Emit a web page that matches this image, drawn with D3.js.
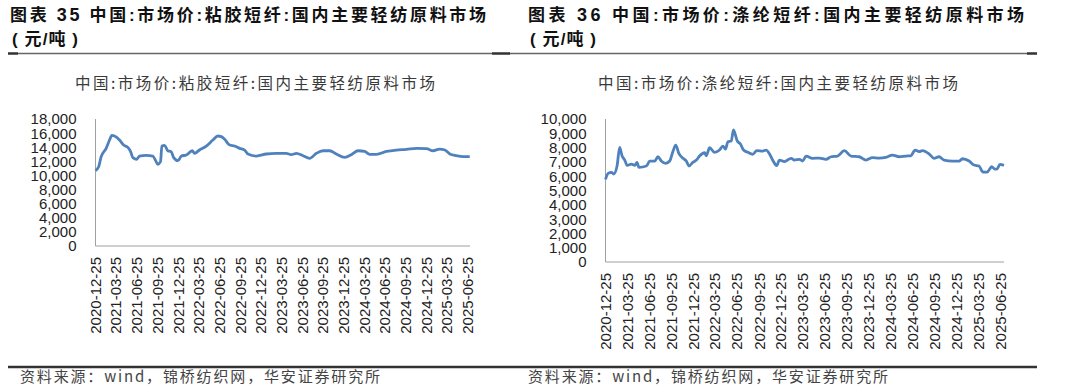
<!DOCTYPE html>
<html>
<head>
	<meta charset="utf-8">
	<title>粘胶短纤 / 涤纶短纤</title>
	<script src="https://cdn.jsdelivr.net/npm/d3@7"></script>
	<style>
		*{ padding: 0; margin: 0; }
		body{ background: #fff; }
		svg{ display: block; }
		.title{ font-family: "Liberation Sans", "Noto Sans CJK SC", sans-serif; font-weight: bold; font-size: 17px; fill: #111; }
		.sub{ font-family: "Noto Sans CJK SC", sans-serif; font-size: 15.5px; fill: #3a3a3a; }
		.src{ font-family: "Noto Sans CJK SC", sans-serif; font-size: 15px; fill: #444; }
		.tick{ font-family: "Liberation Sans", Arial, sans-serif; font-size: 15px; fill: #222; }
		.axis{ stroke: #a0a0a0; stroke-width: 1; }
		.line{ fill: none; stroke: #4f81bd; stroke-width: 2.8; stroke-linejoin: round; }
	</style>
</head>
<body>
	<svg width="1080" height="387"></svg>
	<script type="text/javascript">
		var parse = d3.timeParse("%Y-%m-%d");

		// x轴标签（季度）
		var xLabels = ["2020-12-25","2021-03-25","2021-06-25","2021-09-25","2021-12-25","2022-03-25",
			"2022-06-25","2022-09-25","2022-12-25","2023-03-25","2023-06-25","2023-09-25","2023-12-25",
			"2024-03-25","2024-06-25","2024-09-25","2024-12-25","2025-03-25","2025-06-25"];

		// 粘胶短纤 元/吨
		var vsfDates = ["2020-12-25","2021-01-08","2021-01-19","2021-02-10","2021-02-25","2021-03-07","2021-03-19",
			"2021-04-10","2021-04-28","2021-05-17","2021-05-29","2021-06-08","2021-06-25","2021-07-07","2021-08-06",
			"2021-09-04","2021-09-15","2021-09-26","2021-10-08","2021-10-14","2021-10-26","2021-11-09","2021-11-24",
			"2021-12-05","2021-12-24","2022-01-08","2022-01-30","2022-02-25","2022-03-07","2022-03-29","2022-04-28",
			"2022-05-27","2022-06-18","2022-07-03","2022-07-18","2022-08-09","2022-08-31","2022-09-22","2022-10-14",
			"2022-10-29","2022-12-05","2023-01-18","2023-03-03","2023-04-16","2023-05-08","2023-05-31","2023-06-29",
			"2023-07-28","2023-08-27","2023-09-25","2023-10-25","2023-11-23","2023-12-30","2024-01-28","2024-02-27",
			"2024-03-27","2024-04-18","2024-05-18","2024-07-01","2024-08-14","2024-09-27","2024-11-11","2024-12-25",
			"2025-01-23","2025-02-21","2025-03-16","2025-04-07","2025-05-06","2025-06-04","2025-07-04"];
		var vsfValues = [10700,11240,12660,13840,15020,15680,15590,
			15020,14310,13980,13370,12520,12290,12750,12850,
			12750,12190,11580,11950,14170,14270,13510,13370,
			12520,12090,12750,12900,13500,13140,13600,14170,
			15020,15590,15500,15120,14310,14170,13840,13600,
			13040,12750,13040,13140,13140,12940,13140,12800,
			12420,13140,13500,13500,13040,12570,12940,13500,
			13400,13000,13000,13400,13600,13700,13840,13800,
			13500,13740,13600,13040,12800,12660,12660];

		// 涤纶短纤 元/吨
		var psfDates = ["2020-12-25","2021-01-05","2021-01-19","2021-01-28","2021-02-11","2021-02-22","2021-03-04",
			"2021-03-15","2021-03-25","2021-04-12","2021-04-26","2021-05-05","2021-05-13","2021-06-13","2021-06-27",
			"2021-07-18","2021-07-31","2021-08-14","2021-09-01","2021-09-18","2021-10-01","2021-10-13","2021-10-26",
			"2021-11-12","2021-11-26","2021-12-07","2021-12-23","2022-01-07","2022-01-20","2022-02-10","2022-02-17",
			"2022-03-03","2022-03-23","2022-04-13","2022-04-27","2022-05-08","2022-05-18","2022-06-01","2022-06-10",
			"2022-06-26","2022-07-09","2022-07-22","2022-08-09","2022-08-29","2022-09-15","2022-10-10","2022-10-24",
			"2022-11-07","2022-11-20","2022-12-07","2022-12-18","2023-01-08","2023-02-05","2023-02-18","2023-03-11",
			"2023-03-25","2023-04-08","2023-05-05","2023-06-02","2023-06-30","2023-07-21","2023-08-17","2023-09-14",
			"2023-10-12","2023-11-15","2023-12-13","2024-01-09","2024-02-06","2024-03-05","2024-04-01","2024-04-29",
			"2024-05-27","2024-06-17","2024-07-04","2024-07-21","2024-08-04","2024-09-01","2024-09-21","2024-10-12",
			"2024-11-02","2024-12-06","2025-01-03","2025-01-17","2025-02-14","2025-03-06","2025-03-27","2025-04-13",
			"2025-04-30","2025-05-19","2025-06-01","2025-06-11","2025-06-22","2025-07-09"];
		var psfValues = [5780,6200,6270,6150,6710,8020,7410,
			7130,6760,6850,6760,6970,6620,6710,7060,
			7060,7360,7060,6900,7060,7710,8180,7600,
			7250,7060,6710,6970,7130,7410,7640,7430,
			7990,7670,7830,8110,7900,8410,8460,9230,
			8460,8250,7830,7670,7530,7790,7760,7830,
			7550,7130,6740,7130,7020,7250,7130,7180,
			7060,7410,7250,7270,7180,7360,7410,7790,
			7410,7360,7130,7300,7270,7320,7480,7360,
			7410,7430,7830,7720,7790,7550,7250,7360,
			7130,7060,7060,7220,7060,6780,6710,6290,
			6290,6660,6500,6520,6830,6760];

		var vsfTicks = d3.range(0, 18001, 2000);
		var psfTicks = d3.range(0, 10001, 1000);

		var svg = d3.select("svg");

		function zip(dates, values){
			return dates.map(function(d, i){ return { date: parse(d), value: values[i] }; });
		}

		function drawPanel(opt){
			var g = svg.append("g");
			var x = d3.scaleTime().domain([parse("2020-12-25"), parse(opt.end)]).range([opt.left, opt.right]);
			var y = d3.scaleLinear().domain([0, opt.max]).range([opt.bottom, opt.top]);

			// 标题
			var t = g.append("text").attr("class", "title").attr("x", opt.titleX).attr("y", 21)
				.attr("textLength", opt.titleW).attr("lengthAdjust", "spacing");
			t.append("tspan").text("图表 ");
			t.append("tspan").attr("font-size", "18px").text(opt.num);
			t.append("tspan").text(" " + opt.title);
			g.append("text").attr("class", "title").attr("x", opt.titleX + 2).attr("y", 45)
				.attr("textLength", 66).attr("lengthAdjust", "spacing")
				.text("( 元/吨 )");

			g.append("text").attr("class", "sub").attr("x", opt.subX).attr("y", 89)
				.attr("textLength", 360).attr("lengthAdjust", "spacing").text(opt.sub);

			g.append("text").attr("class", "src").attr("x", opt.srcX).attr("y", 382)
				.attr("textLength", 360).attr("lengthAdjust", "spacing")
				.text("资料来源：wind，锦桥纺织网，华安证券研究所");

			// 坐标轴
			g.append("line").attr("class", "axis")
				.attr("x1", x.range()[0]).attr("x2", x.range()[0])
				.attr("y1", y(opt.max)).attr("y2", y(0));
			g.append("line").attr("class", "axis")
				.attr("x1", x.range()[0]).attr("x2", x.range()[1])
				.attr("y1", y(0)).attr("y2", y(0));

			g.selectAll(".ytick").data(opt.ticks).enter().append("text")
				.attr("class", "tick").attr("text-anchor", "end")
				.attr("x", opt.left - 19).attr("y", function(d){ return y(d); })
				.attr("dy", "0.36em")
				.text(function(d){ return d3.format(",")(d); });

			g.selectAll(".xtick").data(xLabels).enter().append("text")
				.attr("class", "tick").attr("text-anchor", "end")
				.attr("transform", function(d){
					return "translate(" + x(parse(d)) + "," + (y(0) + 11) + ") rotate(-90)";
				})
				.attr("dy", "0.36em")
				.text(function(d){ return d; });

			var line = d3.line()
				.x(function(d){ return x(d.date); })
				.y(function(d){ return y(d.value); })
				.curve(d3.curveMonotoneX);
			g.append("path").datum(opt.data).attr("class", "line").attr("d", line);
		}

		drawPanel({
			num: "35", title: "中国:市场价:粘胶短纤:国内主要轻纺原料市场",
			sub: "中国:市场价:粘胶短纤:国内主要轻纺原料市场",
			titleX: 10, titleW: 476, subX: 75, srcX: 20,
			left: 95.5, right: 470, top: 119, bottom: 246, end: "2025-07-05",
			max: 18000, ticks: vsfTicks, data: zip(vsfDates, vsfValues)
		});
		drawPanel({
			num: "36", title: "中国:市场价:涤纶短纤:国内主要轻纺原料市场",
			sub: "中国:市场价:涤纶短纤:国内主要轻纺原料市场",
			titleX: 528, titleW: 496, subX: 598, srcX: 528,
			left: 605.5, right: 1004, top: 119, bottom: 262, end: "2025-07-09",
			max: 10000, ticks: psfTicks, data: zip(psfDates, psfValues)
		});

		// 分隔线
		svg.append("line").attr("x1", 8).attr("x2", 1037).attr("y1", 53.5).attr("y2", 53.5)
			.attr("stroke", "#666").attr("stroke-width", 1.3);
		[[8, 18], [492, 510], [1027, 1037]].forEach(function(s){
			svg.append("line").attr("x1", s[0]).attr("x2", s[1]).attr("y1", 53.5).attr("y2", 53.5)
				.attr("stroke", "#333").attr("stroke-width", 2.4);
		});
		svg.append("line").attr("x1", 8).attr("x2", 1037).attr("y1", 367).attr("y2", 367)
			.attr("stroke", "#333").attr("stroke-width", 2.5);
	</script>
</body>
</html>
